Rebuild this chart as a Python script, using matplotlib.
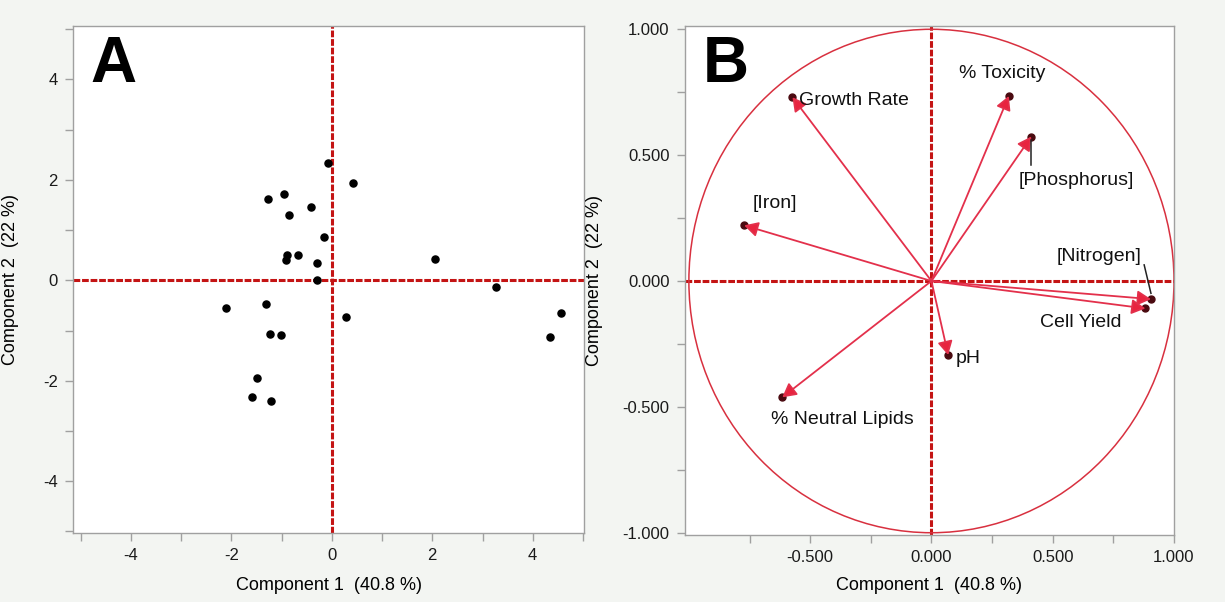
import matplotlib
matplotlib.use('Agg')
import matplotlib.pyplot as plt
from matplotlib.patches import Ellipse
from matplotlib.ticker import MultipleLocator, FixedLocator

plt.rcParams['font.family'] = ['Liberation Sans', 'DejaVu Sans']

# Panel A: PCA scores
score_x = [-0.07, 0.43, -1.27, -0.95, -0.41, -0.85, -0.15, -0.67, -0.89, -0.91,
           -0.30, -0.30, 2.06, 3.26, -2.11, -1.31, 0.29, 4.57, 4.34, -1.22,
           -1.02, -1.49, -1.59, -1.20]
score_y = [2.33, 1.93, 1.61, 1.72, 1.45, 1.29, 0.87, 0.51, 0.50, 0.40,
           0.34, 0.01, 0.42, -0.13, -0.56, -0.47, -0.74, -0.65, -1.13, -1.06,
           -1.08, -1.94, -2.33, -2.40]

# Panel B: loadings
variables = ['Growth Rate', '% Toxicity', '[Phosphorus]', '[Iron]',
             '[Nitrogen]', 'Cell Yield', 'pH', '% Neutral Lipids']
load_x = [-0.573, 0.319, 0.412, -0.772, 0.905, 0.882, 0.069, -0.615]
load_y = [0.730, 0.735, 0.574, 0.221, -0.072, -0.109, -0.294, -0.462]

# label anchor positions (data coords) and alignment
label_x = [-0.546, 0.290, 0.598, -0.644, 0.692, 0.614, 0.101, -0.369]
label_y = [0.719, 0.825, 0.401, 0.306, 0.097, -0.166, -0.307, -0.552]
label_ha = ['left', 'center', 'center', 'center', 'center', 'center', 'left', 'center']

RED_DASH = '#c41414'
ARROW = '#e3304b'
HEAD = '#e8243f'
SPINE = '#a0a0a0'
BG = '#f3f5f2'


def style_axes(ax):
    for s in ax.spines.values():
        s.set_color(SPINE)
        s.set_linewidth(1.0)
    ax.tick_params(which='both', direction='out', length=6, width=1,
                   color=SPINE, labelsize=12, labelcolor='#1a1a1a', pad=5)
    ax.set_facecolor('white')


def zero_lines(ax):
    ax.axhline(0, color=RED_DASH, lw=2.2, ls=(0, (2.2, 0.6)), zorder=1)
    ax.axvline(0, color=RED_DASH, lw=2.2, ls=(0, (2.2, 0.6)), zorder=1)


fig = plt.figure(figsize=(12.25, 6.02), dpi=100, facecolor=BG)

# ---- Panel A ----
axA = fig.add_axes([73 / 1225, 69 / 602, 511 / 1225, 507 / 602])
style_axes(axA)
zero_lines(axA)
axA.scatter(score_x, score_y, s=26, color='black', zorder=3)
axA.set_xlim(-5.15, 5.02)
axA.set_ylim(-5.03, 5.06)
axA.xaxis.set_major_locator(MultipleLocator(2))
axA.xaxis.set_minor_locator(MultipleLocator(1))
axA.yaxis.set_major_locator(MultipleLocator(2))
axA.yaxis.set_minor_locator(MultipleLocator(1))
axA.xaxis.set_major_formatter(plt.FuncFormatter(lambda v, p: f'{v:.0f}'))
axA.yaxis.set_major_formatter(plt.FuncFormatter(lambda v, p: f'{v:.0f}'))
axA.set_xlabel('Component 1  (40.8 %)', fontsize=13)
axA.set_ylabel('Component 2  (22 %)', fontsize=13)
axA.xaxis.set_label_coords(0.5, -0.087)
axA.yaxis.set_label_coords(-0.106, 0.5)

# ---- Panel B ----
axB = fig.add_axes([685 / 1225, 67 / 602, 489 / 1225, 509 / 602])
style_axes(axB)
zero_lines(axB)
axB.add_patch(Ellipse((0, 0), 2, 2, fill=False, edgecolor='#d8303f', lw=1.1, zorder=2))

for i, name in enumerate(variables):
    tip = (load_x[i], load_y[i])
    axB.plot(load_x[i], load_y[i], 'o', color='#4a0a10', ms=5, zorder=3)
    axB.annotate('', xy=tip, xytext=(0, 0),
                 arrowprops=dict(arrowstyle='-|>,head_length=0.55,head_width=0.3',
                                 color=ARROW, fc=HEAD, lw=1.3,
                                 mutation_scale=15, shrinkA=0, shrinkB=0),
                 zorder=4)
    axB.text(label_x[i], label_y[i], name, ha=label_ha[i], va='center',
             fontsize=14, color='#111111', zorder=5)

# leader lines for two labels
axB.plot([0.412, 0.412], [0.560, 0.461], color='#222222', lw=1.1, zorder=4)
axB.plot([0.877, 0.905], [0.064, -0.049], color='#222222', lw=1.1, zorder=4)

axB.set_xlim(-1.016, 1.0)
axB.set_ylim(-1.009, 1.013)
axB.xaxis.set_major_locator(FixedLocator([-0.5, 0.0, 0.5, 1.0]))
axB.xaxis.set_minor_locator(FixedLocator([-0.75, -0.25, 0.25, 0.75]))
axB.yaxis.set_major_locator(FixedLocator([-1.0, -0.5, 0.0, 0.5, 1.0]))
axB.yaxis.set_minor_locator(FixedLocator([-0.75, -0.25, 0.25, 0.75]))
fmt3 = plt.FuncFormatter(lambda v, p: f'{v:.3f}')
axB.xaxis.set_major_formatter(fmt3)
axB.yaxis.set_major_formatter(fmt3)
axB.set_xlabel('Component 1  (40.8 %)', fontsize=13)
axB.set_ylabel('Component 2  (22 %)', fontsize=13)
axB.xaxis.set_label_coords(0.5, -0.083)
axB.yaxis.set_label_coords(-0.168, 0.5)

# red zero ticks
for ax in (axA, axB):
    for axis in (ax.xaxis, ax.yaxis):
        for t in axis.get_major_ticks():
            if abs(t.get_loc()) < 1e-9:
                t.tick1line.set_color(RED_DASH)

fig.text(90 / 1225, 1 - 82 / 602, 'A', fontsize=46, fontweight='bold', va='baseline')
fig.text(703 / 1225, 1 - 82 / 602, 'B', fontsize=46, fontweight='bold', va='baseline')

fig.savefig('out.png', dpi=100, facecolor=BG)
